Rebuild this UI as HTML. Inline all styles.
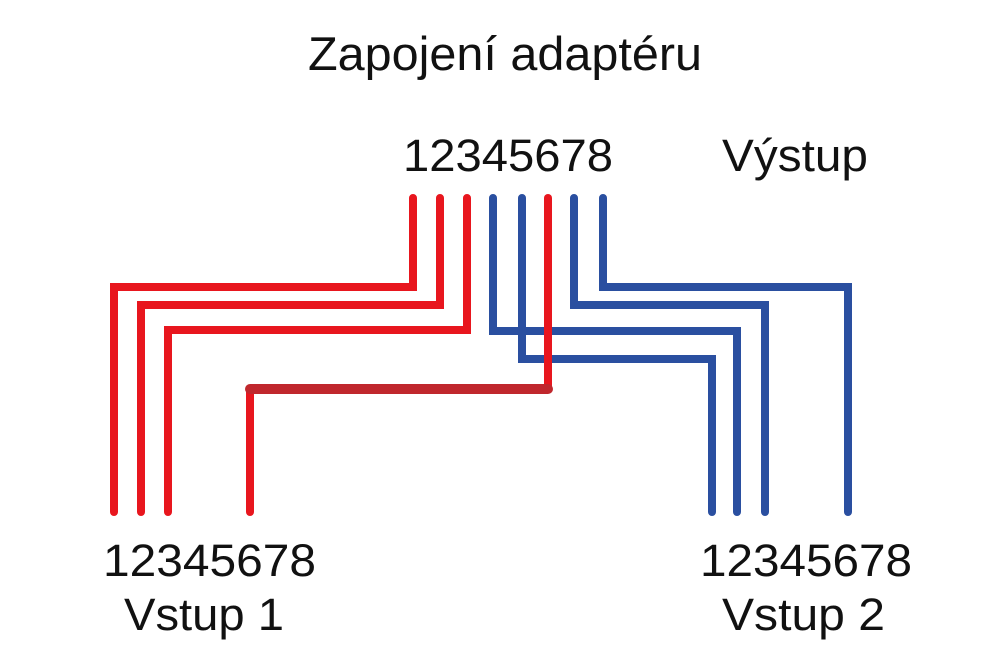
<!DOCTYPE html>
<html><head><style>
html,body{margin:0;padding:0;background:#fff;}
svg{display:block;}
text{font-family:"Liberation Sans",sans-serif;fill:#111;}
</style></head><body>
<svg width="1000" height="666" viewBox="0 0 1000 666" xmlns="http://www.w3.org/2000/svg">
<text x="308" y="70" font-size="47" textLength="394" lengthAdjust="spacingAndGlyphs">Zapojení adaptéru</text>
<text x="403" y="171" font-size="45" textLength="210" lengthAdjust="spacingAndGlyphs">12345678</text>
<text x="722" y="171" font-size="45" textLength="146" lengthAdjust="spacingAndGlyphs">Výstup</text>
<text x="103" y="576" font-size="45" textLength="213" lengthAdjust="spacingAndGlyphs">12345678</text>
<text x="124" y="630" font-size="45" textLength="160" lengthAdjust="spacingAndGlyphs">Vstup 1</text>
<text x="700" y="576" font-size="45" textLength="212" lengthAdjust="spacingAndGlyphs">12345678</text>
<text x="722" y="630" font-size="45" textLength="163" lengthAdjust="spacingAndGlyphs">Vstup 2</text>
<g fill="none" stroke-width="8" stroke-linecap="round" stroke-linejoin="miter">
<path d="M493 198 V331 H737 V512" stroke="#2a4fa0"/>
<path d="M522 198 V359 H712 V512" stroke="#2a4fa0"/>
<path d="M574 198 V305 H765 V512" stroke="#2a4fa0"/>
<path d="M603 198 V287 H848 V512" stroke="#2a4fa0"/>
<path d="M413 198 V287 H114 V512" stroke="#e8161e"/>
<path d="M440 198 V305 H141 V512" stroke="#e8161e"/>
<path d="M467 198 V330 H168 V512" stroke="#e8161e"/>
<path d="M548 198 V389" stroke="#e8161e"/>
<path d="M250 512 V389" stroke="#e8161e"/>
<path d="M250 389 H548" stroke="#c0272d" stroke-width="10"/>
</g>
</svg>
</body></html>
